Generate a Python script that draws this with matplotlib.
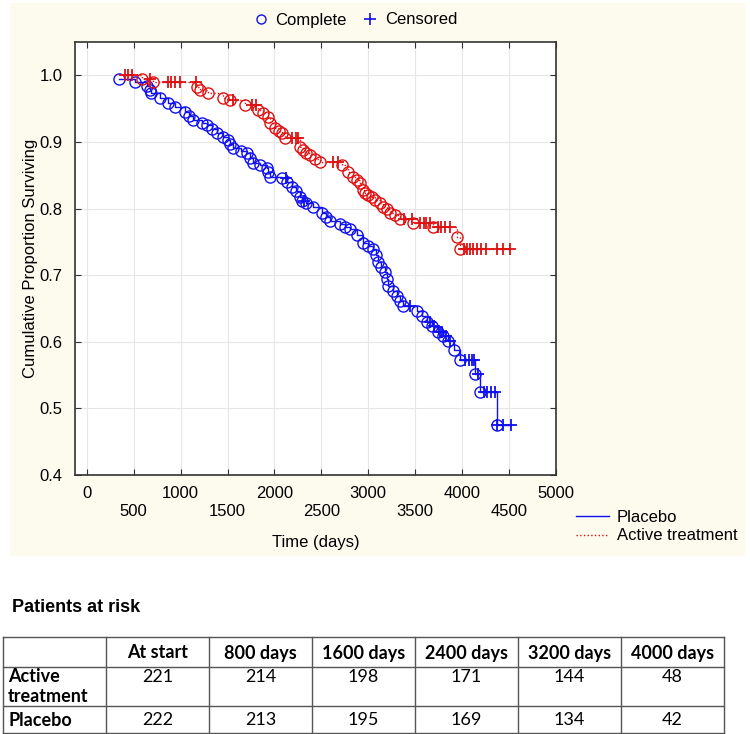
import numpy as np
import matplotlib
matplotlib.use("Agg")
import matplotlib.pyplot as plt
from matplotlib.lines import Line2D
from matplotlib.patches import Rectangle

plt.rcParams['font.family'] = ['Liberation Sans', 'DejaVu Sans']

# Placebo: event times (days) with survival after each event, censored times
placebo_t = [345, 512, 640, 672, 690, 780, 865, 940, 1045, 1090,
             1130, 1230, 1280, 1340, 1390, 1450, 1505, 1530, 1560, 1640,
             1705, 1740, 1775, 1850, 1920, 1935, 1950, 2080, 2130, 2190,
             2230, 2275, 2290, 2340, 2410, 2505, 2550, 2595, 2700, 2755,
             2807, 2880, 2945, 3000, 3050, 3080, 3105, 3140, 3180, 3200,
             3215, 3260, 3305, 3340, 3375, 3520, 3570, 3625, 3680, 3745,
             3800, 3850, 3915, 3980, 4140, 4185, 4375]
placebo_s = [0.995, 0.990, 0.984, 0.978, 0.973, 0.966, 0.958, 0.952, 0.945, 0.939,
             0.933, 0.929, 0.925, 0.919, 0.913, 0.908, 0.903, 0.897, 0.891, 0.887,
             0.884, 0.876, 0.869, 0.865, 0.861, 0.855, 0.848, 0.846, 0.840, 0.833,
             0.826, 0.818, 0.812, 0.808, 0.803, 0.794, 0.788, 0.781, 0.777, 0.773,
             0.769, 0.761, 0.749, 0.744, 0.739, 0.730, 0.719, 0.712, 0.704, 0.694,
             0.684, 0.676, 0.669, 0.661, 0.654, 0.646, 0.638, 0.630, 0.623, 0.615,
             0.608, 0.601, 0.587, 0.573, 0.551, 0.525, 0.475]
placebo_cens = [2120, 2320, 3440, 3660, 3700, 3760, 3790, 3830, 3870, 4030,
                4070, 4100, 4125, 4170, 4230, 4270, 4310, 4350, 4375, 4440, 4525]

# Active treatment
active_t = [585, 705, 1170, 1205, 1290, 1450, 1525, 1685, 1825, 1880,
            1930, 1950, 2005, 2050, 2080, 2115, 2275, 2305, 2340, 2380,
            2430, 2485, 2720, 2785, 2840, 2880, 2915, 2945, 2970, 3000,
            3040, 3075, 3120, 3160, 3200, 3235, 3280, 3340, 3480, 3690,
            3950, 3980]
active_s = [0.995, 0.990, 0.982, 0.978, 0.973, 0.966, 0.963, 0.955, 0.948, 0.943,
            0.937, 0.928, 0.921, 0.917, 0.913, 0.906, 0.893, 0.888, 0.884, 0.881,
            0.875, 0.870, 0.866, 0.855, 0.848, 0.843, 0.839, 0.828, 0.824, 0.821,
            0.817, 0.813, 0.808, 0.803, 0.799, 0.794, 0.790, 0.784, 0.779, 0.773,
            0.757, 0.740]
active_cens = [405, 440, 480, 672, 865, 900, 940, 990, 1160, 1560,
               1760, 1800, 2190, 2225, 2250, 2625, 2680, 3380, 3470, 3555,
               3590, 3620, 3660, 3745, 3780, 3820, 3875, 4015, 4050, 4085,
               4115, 4160, 4200, 4250, 4375, 4440, 4515]

x_ticks = list(range(0, 5001, 500))
y_ticks = [0.4, 0.5, 0.6, 0.7, 0.8, 0.9, 1.0]

risk_cols = ["At start", "800 days", "1600 days", "2400 days", "3200 days", "4000 days"]
risk_rows = ["Active\ntreatment", "Placebo"]
risk_active = [221, 214, 198, 171, 144, 48]
risk_placebo = [222, 213, 195, 169, 134, 42]

BLUE = "#1010f0"
RED = "#e01010"


def km_line(ev_t, ev_s, cens_t):
    # level of the curve at each censored time, and the full step path
    ev_t = np.asarray(ev_t, float)
    ev_s = np.asarray(ev_s, float)
    cens_t = np.asarray(cens_t, float)
    idx = np.searchsorted(ev_t, cens_t, side="right") - 1
    cens_s = np.where(idx >= 0, ev_s[np.clip(idx, 0, None)], 1.0)
    all_t = np.concatenate([ev_t, cens_t])
    all_s = np.concatenate([ev_s, cens_s])
    order = np.argsort(all_t, kind="stable")
    return cens_s, all_t[order], all_s[order]


fig = plt.figure(figsize=(7.5, 7.34), dpi=100)
W, H = 750.0, 734.0

# background layer in pixel coordinates
bg = fig.add_axes([0, 0, 1, 1], zorder=-1)
bg.set_xlim(0, W)
bg.set_ylim(H, 0)
bg.axis("off")
bg.add_patch(Rectangle((10, 3), 735, 553, facecolor="#fdfaee", edgecolor="none"))

ax = fig.add_axes([75 / W, 1 - 475 / H, (556 - 75) / W, (475 - 42) / H])
ax.set_facecolor("white")

for ev_t, ev_s, cens_t, col, ls in [(placebo_t, placebo_s, placebo_cens, BLUE, "-"),
                                    (active_t, active_s, active_cens, RED, ":")]:
    cens_s, lt, ls_ = km_line(ev_t, ev_s, cens_t)
    ax.step(lt, ls_, where="post", color=col, lw=1, ls=ls, zorder=3)
    ax.plot(ev_t, ev_s, "o", mfc="none", mec=col, ms=8, mew=1, zorder=4)
    ax.plot(cens_t, cens_s, "+", color=col, ms=8.5, mew=1.3, zorder=4)

ax.set_xlim(-125, 5000)
ax.set_ylim(0.4, 1.05)
ax.set_xticks(x_ticks)
ax.set_xticklabels([str(v) if v % 1000 == 0 else "\n" + str(v) for v in x_ticks])
ax.set_yticks(y_ticks)
ax.set_yticklabels(["%.1f" % v for v in y_ticks])
ax.tick_params(direction="in", length=4, width=0.8, top=True, right=True,
               labelsize=12, color="#333333")
ax.tick_params(axis="x", pad=8)
ax.tick_params(axis="y", pad=9)
ax.grid(True, color="#e6e6e6", lw=0.8)
ax.set_axisbelow(True)
for sp in ax.spines.values():
    sp.set_color("#333333")
    sp.set_linewidth(1.2)
ax.set_xlabel("Time (days)", fontsize=12, labelpad=12)
ax.set_ylabel("Cumulative Proportion Surviving", fontsize=12, labelpad=1)

# legend for marker types
mk_handles = [Line2D([], [], marker="o", ls="none", mfc="none", mec=BLUE, ms=6.5, mew=1),
              Line2D([], [], marker="+", ls="none", color=BLUE, ms=8, mew=1.2)]
fig.legend(mk_handles, ["Complete", "Censored"], ncol=2, loc="center",
           bbox_to_anchor=(355 / W, 1 - 20 / H), frameon=False, fontsize=12,
           handlelength=1, handletextpad=0.4, columnspacing=0.9)

# legend for groups
ln_handles = [Line2D([], [], color=BLUE, lw=1),
              Line2D([], [], color=RED, lw=1, ls=":")]
fig.legend(ln_handles, ["Placebo", "Active treatment"], loc="upper left",
           bbox_to_anchor=(576 / W, 1 - 510 / H), frameon=False, fontsize=12,
           handlelength=2.0, handletextpad=0.45, labelspacing=0.2,
           borderaxespad=0, borderpad=0)

# patients at risk table
tfont = ["Lato", "Liberation Sans", "DejaVu Sans"]
bg.text(12, 607, "Patients at risk", fontsize=13, fontweight="bold",
        ha="left", va="center", family=["Liberation Sans", "DejaVu Sans"])

col_x = [3, 106, 209, 312, 415, 518, 621, 724]
row_y = [637, 667, 706, 733]
for x in col_x:
    bg.plot([x, x], [row_y[0], row_y[-1]], color="#555555", lw=1)
for y in row_y:
    bg.plot([col_x[0], col_x[-1]], [y, y], color="#555555", lw=1)

for i, lab in enumerate(risk_cols):
    xc = (col_x[i + 1] + col_x[i + 2]) / 2
    bg.text(xc, 653, lab, fontsize=13, fontweight="bold", ha="center",
            va="center", family=tfont)

bg.text(8, 677, "Active", fontsize=13, fontweight="bold", ha="left", va="center", family=tfont)
bg.text(8, 696, "treatment", fontsize=13, fontweight="bold", ha="left", va="center", family=tfont)
bg.text(8, 720, "Placebo", fontsize=13, fontweight="bold", ha="left", va="center", family=tfont)
for i in range(len(risk_cols)):
    xc = (col_x[i + 1] + col_x[i + 2]) / 2
    bg.text(xc, 677, str(risk_active[i]), fontsize=13, ha="center", va="center", family=tfont)
    bg.text(xc, 720, str(risk_placebo[i]), fontsize=13, ha="center", va="center", family=tfont)

fig.savefig("out.png", dpi=100)
